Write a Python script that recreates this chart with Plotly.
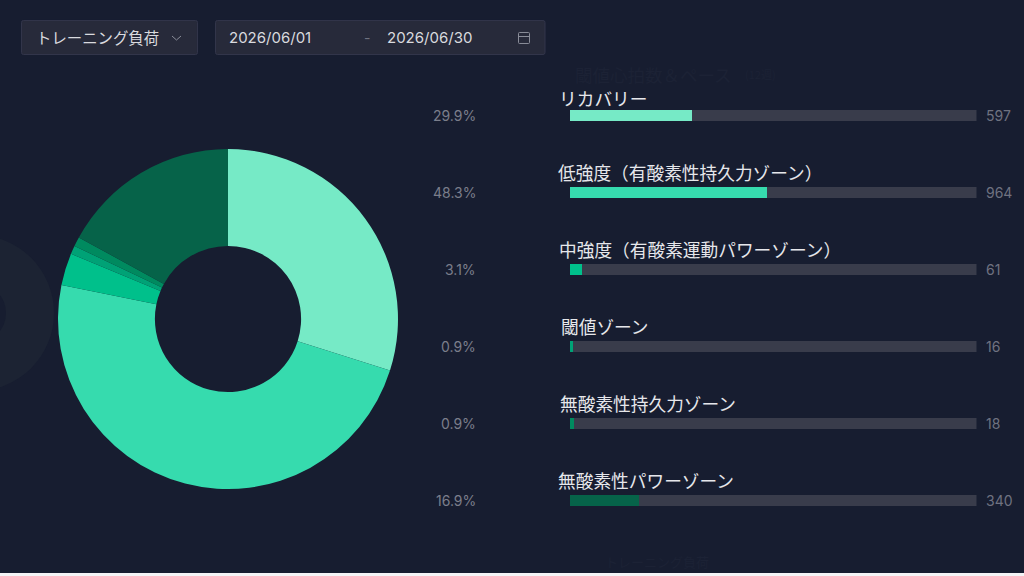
import plotly.graph_objects as go

W, H = 1024, 576
zones = ["リカバリー", "低強度（有酸素性持久力ゾーン）", "中強度（有酸素運動パワーゾーン）",
         "閾値ゾーン", "無酸素性持久力ゾーン", "無酸素性パワーゾーン"]
values = [597, 964, 61, 16, 18, 340]
percents = ["29.9%", "48.3%", "3.1%", "0.9%", "0.9%", "16.9%"]
colors = ["#76EAC6", "#36DBAE", "#00C08B", "#00A276", "#008A5F", "#066349"]
dropdown_label = "トレーニング負荷"
date_start = "2026/06/01"
date_end = "2026/06/30"

BG = "#171D30"
TRACK = "#393C4B"
JP = "Noto Sans CJK JP"
LATIN = "Inter, Noto Sans CJK JP"
total = sum(values)


def px(x):
    return x / W


def py(y):
    return 1 - y / H


fig = go.Figure()

fig.add_trace(go.Pie(
    values=values, labels=zones, sort=False, direction="clockwise", rotation=0,
    hole=0.43, textinfo="none", showlegend=False, hoverinfo="label+value",
    marker=dict(colors=colors, line=dict(width=0)),
    domain=dict(x=[px(58), px(398)], y=[py(489), py(149)]),
))

fig.add_trace(go.Bar(
    x=[total] * len(zones), y=zones, orientation="h", width=0.143,
    marker=dict(color=TRACK, line=dict(width=0)), showlegend=False, hoverinfo="skip",
))
fig.add_trace(go.Bar(
    x=values, y=zones, orientation="h", width=0.143,
    marker=dict(color=colors, line=dict(width=0)), showlegend=False,
))

annotations = []


def text(x, y, s, size, color, anchor="left", font=LATIN):
    annotations.append(dict(
        x=px(x), y=py(y), xref="paper", yref="paper", text=s, showarrow=False,
        xanchor=anchor, yanchor="middle", align=anchor, borderpad=0, borderwidth=0,
        font=dict(family=font, size=size, color=color),
    ))


ROW0, STEP = 115.5, 77
label_left = [558.5, 558, 558.5, 560.5, 559.5, 558]
for i, (z, v, p) in enumerate(zip(zones, values, percents)):
    yc = ROW0 + STEP * i
    text(label_left[i], yc - (17.5 if i == 0 else 20.5), z, 17.7, "#E6E7EB", font=JP)
    text(986, yc, str(v), 14, "#6F7280")
    text(476, yc, p, 14, "#7B7E8B", anchor="right")

text(36, 37, dropdown_label, 15.4, "#D9DADF", font=JP)
text(229, 37, date_start, 15, "#D9DADF")
text(387, 37, date_end, 15, "#D9DADF")
text(367, 37, "-", 14, "#6F7280", anchor="center")
text(575, 74, "閾値心拍数＆ペース", 17.5, "#1C2235", font=JP)
text(745, 74, "(12週)", 11, "#1C2235", font=JP)
text(605, 561, "トレーニング負荷", 13, "#1C2235", font=JP)

shapes = []


def circle(cx, cy, r, fill):
    shapes.append(dict(type="circle", xref="paper", yref="paper",
                       x0=px(cx - r), x1=px(cx + r), y0=py(cy + r), y1=py(cy - r),
                       fillcolor=fill, line=dict(width=0), layer="below"))


def rect(x0, y0, x1, y1, fill):
    shapes.append(dict(type="rect", xref="paper", yref="paper",
                       x0=px(x0), x1=px(x1), y0=py(y0), y1=py(y1), fillcolor=fill,
                       line=dict(width=0), layer="above"))


def round_rect(x0, y0, x1, y1, r, fill, line, layer="below"):
    def p(a, b):
        return f"{px(a):.5f},{py(b):.5f}"
    path = (f"M {p(x0 + r, y0)} L {p(x1 - r, y0)} Q {p(x1, y0)} {p(x1, y0 + r)} "
            f"L {p(x1, y1 - r)} Q {p(x1, y1)} {p(x1 - r, y1)} "
            f"L {p(x0 + r, y1)} Q {p(x0, y1)} {p(x0, y1 - r)} "
            f"L {p(x0, y0 + r)} Q {p(x0, y0)} {p(x0 + r, y0)} Z")
    shapes.append(dict(type="path", xref="paper", yref="paper", path=path,
                       fillcolor=fill, line=dict(color=line, width=1), layer=layer))


def poly(points, color="#8A8D99"):
    shapes.append(dict(type="path", xref="paper", yref="paper",
                       path="M " + " L ".join(f"{px(a):.5f},{py(b):.5f}" for a, b in points),
                       line=dict(color=color, width=1), layer="above"))


circle(-24, 313, 78, "#1C2333")
circle(-24, 313, 30, BG)
round_rect(21.5, 20.5, 197.5, 54.5, 2, "#272A3A", "#32354A")
round_rect(215.5, 20.5, 545, 54.5, 2, "#272A3A", "#32354A")
poly([(172, 36), (176.5, 40), (181, 36)])
round_rect(518.5, 32.5, 529.5, 43.5, 1, "rgba(0,0,0,0)", "#8A8D99", layer="above")
poly([(518.5, 36.5), (529.5, 36.5)])
rect(0, 573, W, H, "#F4F4F6")

fig.update_layout(
    width=W, height=H, margin=dict(l=0, r=0, t=0, b=0),
    paper_bgcolor=BG, plot_bgcolor=BG, barmode="overlay", bargap=0,
    xaxis=dict(domain=[px(569.5), px(976.5)], range=[0, total], visible=False, fixedrange=True),
    yaxis=dict(domain=[py(77 + 77 * 6), py(77)], categoryorder="array", categoryarray=zones,
               autorange="reversed", visible=False, fixedrange=True),
    annotations=annotations, shapes=shapes,
)
fig.write_html("out.html", config=dict(displayModeBar=False),
               post_script="document.body.style.margin='0';document.body.style.overflow='hidden';document.body.style.background='#171D30';")
